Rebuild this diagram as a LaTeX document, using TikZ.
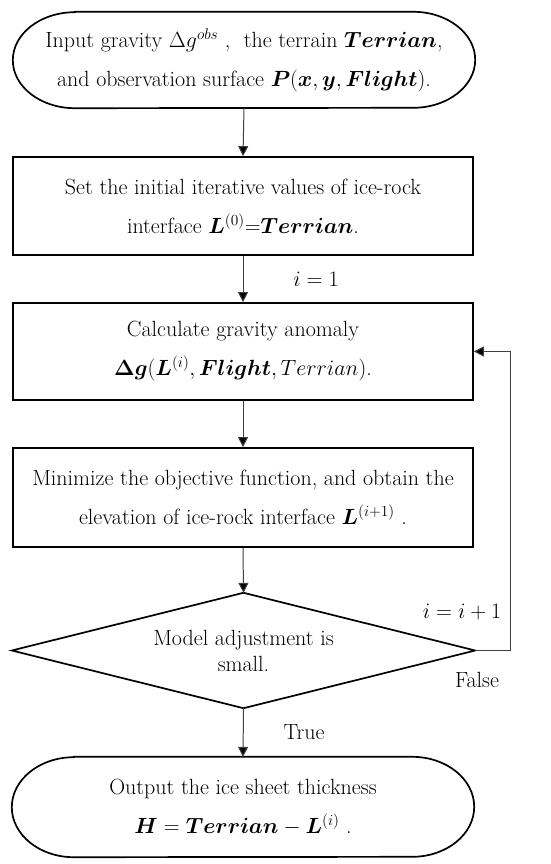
\documentclass[tikz,border=0pt]{standalone}
\usepackage{fix-cm}
\usepackage{amsmath,bm}
\usetikzlibrary{arrows.meta}
\begin{document}
\begin{tikzpicture}[x=1pt,y=-1pt,
  txt/.style={inner sep=0pt, align=center, font=\fontsize{22}{39}\selectfont},
  box/.style={txt, draw, line width=1.7pt, minimum width=460pt},
  ghost/.style={txt, draw=none},
  shapeline/.style={line width=1.7pt},
  conn/.style={draw=black!75, line width=1pt, -{Triangle[length=10pt,width=10pt,fill=black]}},
  lbl/.style={inner sep=0pt, font=\fontsize{22}{24}\selectfont}]
\useasboundingbox (0,0) rectangle (550,864);

% start terminal
\node[ghost, minimum width=462pt, minimum height=96pt] (t1) at (244,60)
  {Input gravity $\Delta g^{obs}$ ,\ \ the terrain $\bm{Terrian}$,\\
   and observation surface $\bm{P}(\bm{x},\bm{y},\bm{Flight})$.};
\draw[shapeline] ([xshift=62pt]t1.north west) -- ([xshift=-62pt]t1.north east)
  arc[start angle=90,end angle=-90,x radius=62pt,y radius=48pt]
  -- ([xshift=62pt]t1.south west)
  arc[start angle=270,end angle=90,x radius=62pt,y radius=48pt] -- cycle;

% boxes
\node[box, minimum height=98pt] (b2) at (243,206)
  {Set the initial iterative values of ice-rock\\
   interface $\bm{L}^{(0)}$=$\bm{Terrian}$.};
\node[box, minimum height=97pt] (b3) at (243,351.5)
  {Calculate gravity anomaly\\
   $\bm{\Delta g}(\bm{L}^{(i)},\bm{Flight},Terrian)$.};
\node[box, minimum height=99pt] (b4) at (243,497.5)
  {Minimize the objective function, and obtain the\\
   elevation of ice-rock interface $\bm{L}^{(i+1)}$ .};

% decision
\node[ghost, minimum width=463pt, minimum height=115pt, font=\fontsize{22}{26}\selectfont] (d) at (243.5,650.5)
  {Model adjustment is\\ small.};
\draw[shapeline] (d.north) -- (d.east) -- (d.south) -- (d.west) -- cycle;

% end terminal
\node[ghost, minimum width=462pt, minimum height=100pt] (t2) at (243,807)
  {Output the ice sheet thickness\\
   $\bm{H}=\bm{Terrian}-\bm{L}^{(i)}$ .};
\draw[shapeline] ([xshift=62pt]t2.north west) -- ([xshift=-62pt]t2.north east)
  arc[start angle=90,end angle=-90,x radius=62pt,y radius=50pt]
  -- ([xshift=62pt]t2.south west)
  arc[start angle=270,end angle=90,x radius=62pt,y radius=50pt] -- cycle;

% connectors
\draw[conn] (t1.south) -- (b2.north);
\draw[conn] (b2.south) -- (b3.north);
\draw[conn] (b3.south) -- (b4.north);
\draw[conn] (b4.south) -- (d.north);
\draw[conn] (d.south) -- (t2.north);
\coordinate (fb) at (510,650.5);
\draw[conn] (d.east) -- (fb) |- (b3.east);

% labels
\node[lbl] (l1) at (316,279) {$i=1$};
\node[lbl] (l2) at (462,612) {$i=i+1$};
\node[lbl] (l3) at (477,680) {False};
\node[lbl] (l4) at (304,732) {True};
\end{tikzpicture}
\end{document}
